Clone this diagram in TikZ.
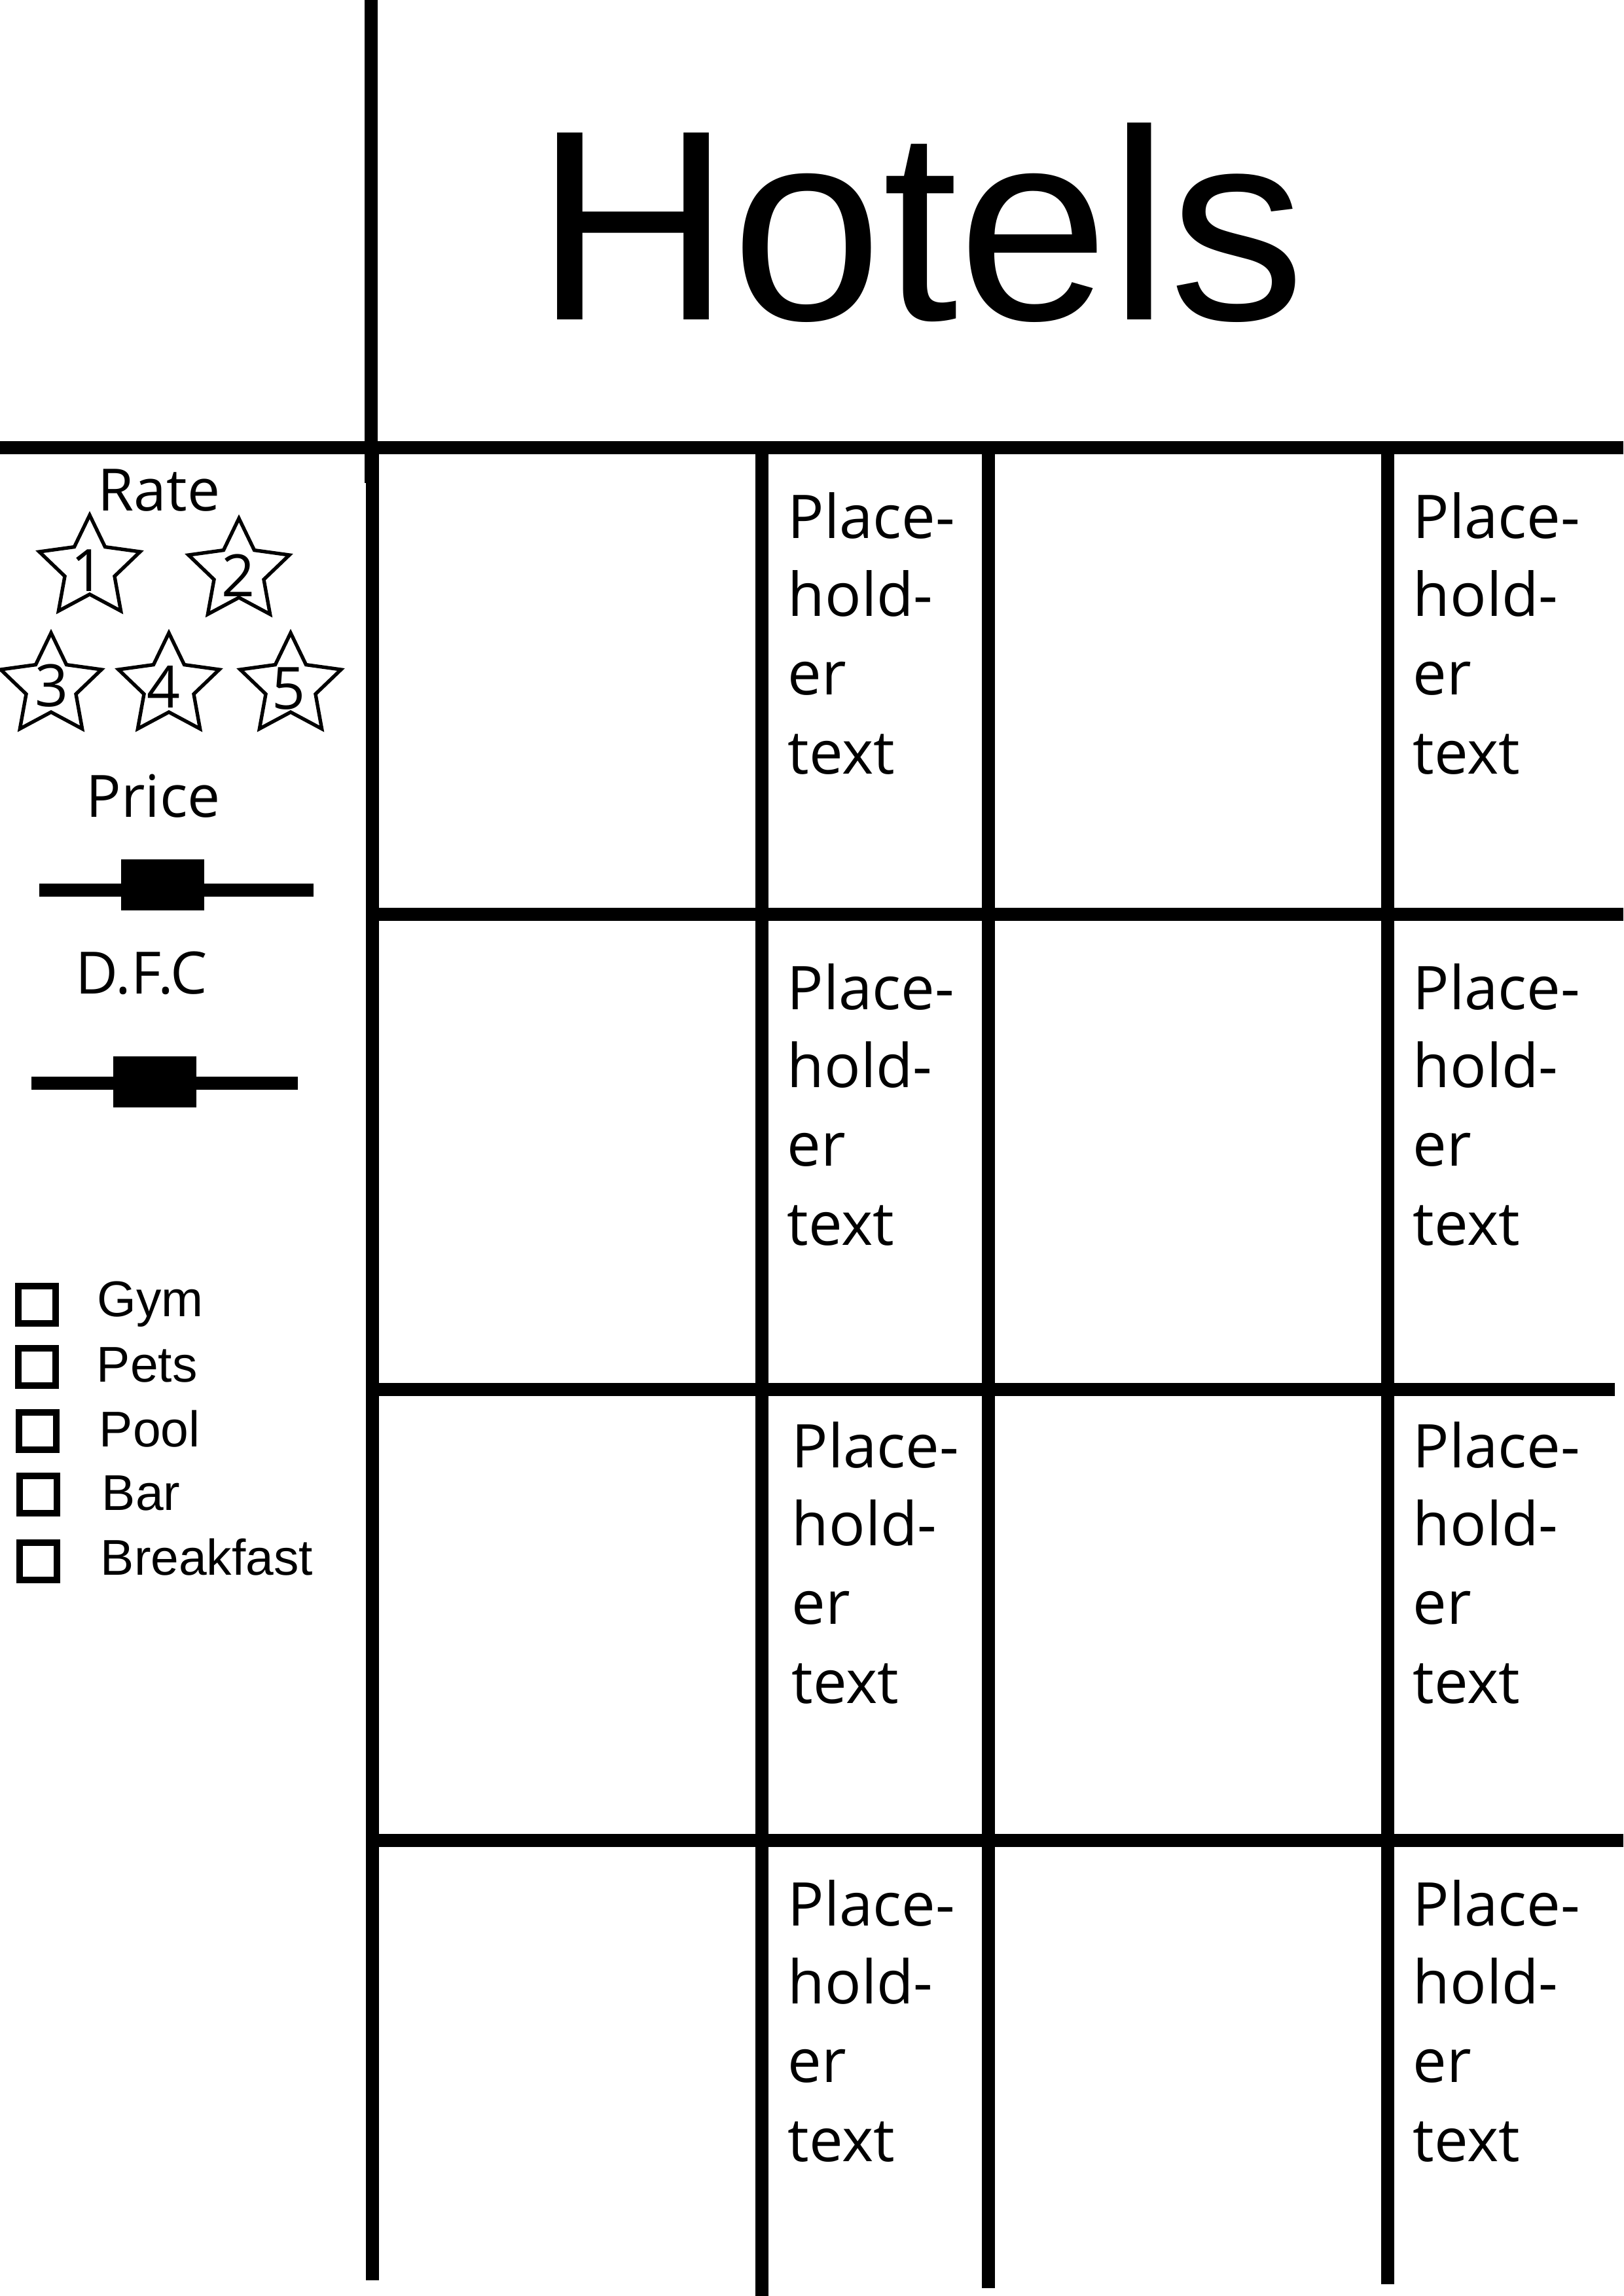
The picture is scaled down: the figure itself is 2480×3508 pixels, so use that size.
\documentclass[tikz,border=0pt]{standalone}
\usepackage{fontspec}
\setmainfont{Open Sans}
\newfontfamily\arialfont{Liberation Sans}
\begin{document}
\begin{tikzpicture}[x=0.0084677cm, y=-0.0084677cm,
  grid/.style={line width=4.82pt},
  starline/.style={line width=1.3pt, line join=miter},
  cbox/.style={draw, line width=2.41pt, minimum size=0.4827cm, inner sep=0pt},
  knob/.style={fill=black, minimum width=1.0754cm, minimum height=0.6605cm, inner sep=0pt},
  ph/.style={anchor=base west, inner sep=0pt, font=\fontsize{22.2pt}{27pt}\selectfont},
  lab/.style={anchor=base, inner sep=0pt, font=\fontsize{21.5pt}{26pt}\selectfont},
  opt/.style={anchor=base west, inner sep=0pt, font=\arialfont\fontsize{18.5pt}{22pt}\selectfont},
  hstar/.pic={\draw[starline] (0,-81) -- (23.5,-32.4) -- (77,-25) -- (38,12.4) -- (47.6,65.5) -- (0,40) -- (-47.6,65.5) -- (-38,12.4) -- (-77,-25) -- (-23.5,-32.4) -- cycle;}
]
\fill[white] (0,0) rectangle (2480,3508);
\useasboundingbox (0,0) rectangle (2480,3508);

% title
\node[anchor=base, inner sep=0pt, font=\arialfont\fontsize{100pt}{120pt}\selectfont] (title) at (1406,488) {Hotels};

% grid lines
\coordinate (mT) at (566.5,0);
\coordinate (mJ) at (566.5,738);
\coordinate (mJ2) at (569,694);
\coordinate (mB) at (569,3484);
\draw[grid] (mT) -- (mJ);
\draw[grid] (mJ2) -- (mB);
\coordinate (h0L) at (0,684);
\coordinate (h0R) at (2480,684);
\draw[grid] (h0L) -- (h0R);
\coordinate (v2T) at (1164,684);
\coordinate (v2B) at (1164,3508);
\coordinate (v3T) at (1510,684);
\coordinate (v3B) at (1510,3496);
\coordinate (v4T) at (2120,684);
\coordinate (v4B) at (2120,3490);
\draw[grid] (v2T) -- (v2B);
\draw[grid] (v3T) -- (v3B);
\draw[grid] (v4T) -- (v4B);
\coordinate (h1L) at (569,1397);
\coordinate (h1R) at (2480,1397);
\coordinate (h2L) at (569,2123);
\coordinate (h2R) at (2467,2123);
\coordinate (h3L) at (569,2812);
\coordinate (h3R) at (2480,2812);
\draw[grid] (h1L) -- (h1R);
\draw[grid] (h2L) -- (h2R);
\draw[grid] (h3L) -- (h3R);

% placeholder texts
\foreach \r/\y/\xa in {1/822/1203, 2/1542/1202, 3/2242/1209, 4/2942/1203}{
  \foreach \c/\x in {a/\xa, b/2158}{
    \node[ph] (ph\r\c1) at (\x,\y) {Place-};
    \node[ph] (ph\r\c2) at (\x,\y+119) {hold-};
    \node[ph] (ph\r\c3) at (\x,\y+239) {er};
    \node[ph] (ph\r\c4) at (\x,\y+360) {text};
  }
}

% left panel: rate
\node[lab] (rate) at (243,780) {Rate};
\pic (s1) at (137,868) {hstar};
\pic (s2) at (365,873) {hstar};
\pic (s3) at (78,1048) {hstar};
\pic (s4) at (258,1048) {hstar};
\pic (s5) at (444,1048) {hstar};
\node[lab] (d1) at (134,903) {1};
\node[lab] (d2) at (364,911) {2};
\node[lab] (d3) at (79,1079) {3};
\node[lab] (d4) at (250,1081) {4};
\node[lab] (d5) at (441,1083) {5};

% price slider
\node[lab] (price) at (234,1248) {Price};
\coordinate (pA) at (60,1360);
\coordinate (pB) at (479,1360);
\draw[grid] (pA) -- (pB);
\node[knob] (pK) at (248.5,1352) {};

% distance slider
\node[lab] (dfc) at (216,1518) {D.F.C};
\coordinate (dA) at (48,1655);
\coordinate (dB) at (455,1655);
\draw[grid] (dA) -- (dB);
\node[knob] (dK) at (236.5,1652.5) {};

% check boxes
\node[cbox] (b1) at (56.5,1993.5) {};
\node[cbox] (b2) at (56.5,2088.5) {};
\node[cbox] (b3) at (57.5,2186.5) {};
\node[cbox] (b4) at (58.5,2283.5) {};
\node[cbox] (b5) at (58.5,2385.5) {};
\node[opt] (t1) at (148,2011) {Gym};
\node[opt] (t2) at (147,2111) {Pets};
\node[opt] (t3) at (151,2210) {Pool};
\node[opt] (t4) at (155,2307) {Bar};
\node[opt] (t5) at (153,2406) {Breakfast};
\end{tikzpicture}
\end{document}
